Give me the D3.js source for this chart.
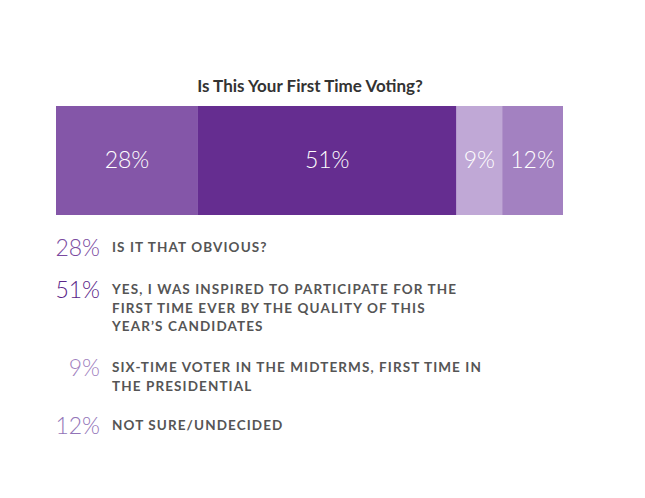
<!DOCTYPE html><html><head><meta charset="utf-8"><script src="https://d3js.org/d3.v7.min.js"></script>
<style>body{margin:0;background:#fff}</style></head><body><svg id="c" width="645" height="498"></svg>
<script>
const title = "Is This Your First Time Voting?";
const values = [28, 51, 9, 12];
const colors = ["#8456a8", "#652d90", "#c0a8d6", "#a381c1"];
const legendColors = ["#7a4aa0", "#5a2588", "#9f7fc0", "#9274b8"];
const labels = [
  ["IS IT THAT OBVIOUS?"],
  ["YES, I WAS INSPIRED TO PARTICIPATE FOR THE", "FIRST TIME EVER BY THE QUALITY OF THIS", "YEAR’S CANDIDATES"],
  ["SIX-TIME VOTER IN THE MIDTERMS, FIRST TIME IN", "THE PRESIDENTIAL"],
  ["NOT SURE/UNDECIDED"]
];
const rowY = [252, 294, 372, 430];
const svg = d3.select("#c");
svg.append("text").attr("x", 310).attr("y", 92).attr("text-anchor", "middle")
  .attr("font-family", "Lato, sans-serif").attr("font-weight", 700).attr("font-size", 17).attr("fill", "#333").text(title);
const x = d3.scaleLinear().domain([0, d3.sum(values)]).range([56, 563]);
let cum = 0;
const segs = values.map(v => { const s = {v, a: cum}; cum += v; return s; });
const g = svg.append("g");
g.selectAll("rect").data(segs).join("rect")
  .attr("x", d => x(d.a)).attr("width", d => x(d.a + d.v) - x(d.a))
  .attr("y", 106).attr("height", 109).attr("fill", (d, i) => colors[i]);
g.selectAll("text").data(segs).join("text")
  .attr("x", d => (x(d.a) + x(d.a + d.v)) / 2).attr("y", 168).attr("text-anchor", "middle")
  .attr("font-family", "Lato, sans-serif").attr("font-weight", 300).attr("font-size", 23).attr("fill", "#fff")
  .text(d => d.v + "%");
values.forEach((v, i) => {
  svg.append("text").attr("x", 100).attr("y", rowY[i] + 4).attr("text-anchor", "end")
    .attr("font-family", "Lato, sans-serif").attr("font-weight", 300).attr("font-size", 23).attr("fill", legendColors[i]).text(v + "%");
  labels[i].forEach((l, j) => {
    svg.append("text").attr("x", 112).attr("y", rowY[i] + j * 18.5)
      .attr("font-family", "Lato, sans-serif").attr("font-weight", 700).attr("font-size", 13.5)
      .attr("letter-spacing", 1.1).attr("fill", "#555").text(l);
  });
});
</script></body></html>
